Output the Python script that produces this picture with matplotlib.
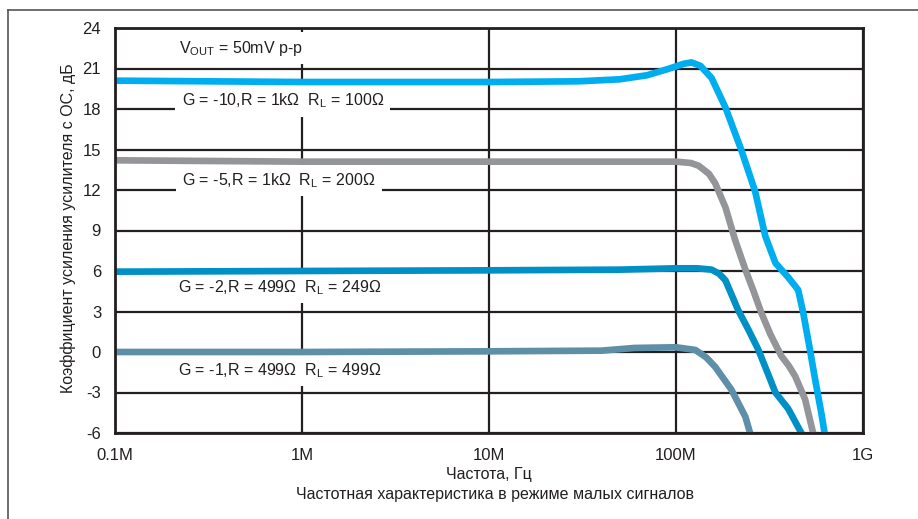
import numpy as np
import matplotlib
matplotlib.use("Agg")
import matplotlib.pyplot as plt
from matplotlib.lines import Line2D

plt.rcParams['font.family'] = ['Liberation Sans', 'DejaVu Sans']
plt.rcParams['mathtext.fontset'] = 'custom'
plt.rcParams['mathtext.rm'] = 'Liberation Sans'
plt.rcParams['axes.unicode_minus'] = False

# frequency in MHz, gain in dB
f_g10 = [0.1, 1, 10, 30, 50, 70, 90, 110, 121, 135, 155, 184, 223, 265, 300,
         340, 400, 450, 479, 520, 554, 600, 640]
g_g10 = [20.1, 20.0, 20.0, 20.05, 20.2, 20.5, 20.95, 21.35, 21.45, 21.2, 20.3,
         18.1, 15.0, 11.9, 8.6, 6.6, 5.5, 4.6, 2.9, 0.2, -2.0, -4.6, -7]

f_g5 = [0.1, 1, 10, 50, 100, 120, 132, 150, 162, 184, 207, 235, 260, 286, 320,
        366, 400, 434, 490, 541, 580]
g_g5 = [14.2, 14.1, 14.1, 14.1, 14.1, 14.0, 13.8, 13.2, 12.5, 10.7, 8.3, 6.1,
        4.5, 2.9, 1.3, -0.3, -1.0, -1.8, -3.5, -6, -7.5]

f_g2 = [0.1, 1, 10, 50, 100, 130, 155, 170, 184, 215, 245, 275, 310, 340, 398,
        468, 520]
g_g2 = [5.95, 6.0, 6.05, 6.1, 6.2, 6.2, 6.1, 5.8, 5.3, 3.1, 1.6, 0.2, -1.6,
        -3.0, -4.2, -6, -7.2]

f_g1 = [0.1, 1, 10, 40, 60, 100, 127, 145, 162, 198, 235, 249, 260]
g_g1 = [0.0, 0.0, 0.05, 0.1, 0.3, 0.35, 0.15, -0.4, -1.1, -2.8, -4.8, -6, -7]

xticks = [0.1, 1, 10, 100, 1000]
xlabels = ['0.1M', '1M', '10M', '100M', '1G']
yticks = list(range(-6, 25, 3))

fig = plt.figure(figsize=(9.18, 5.19), dpi=100)
ax = fig.add_axes([115 / 918, 1 - 433 / 519, 748 / 918, 405 / 519])

dark = '#231f20'
ax.set_xscale('log')
ax.set_xlim(0.1, 1000)
ax.set_ylim(-6, 24)
ax.set_xticks(xticks)
ax.set_xticklabels(xlabels)
ax.set_yticks(yticks)
ax.minorticks_off()
ax.tick_params(length=0, labelsize=12, colors='#231f20', pad=10)
ax.tick_params(axis='x', pad=11)
ax.grid(True, color=dark, linewidth=1.6, zorder=1)
for s in ax.spines.values():
    s.set_linewidth(2.0)
    s.set_color(dark)
    s.set_zorder(5)

lw = 4.8
ax.plot(f_g10, g_g10, color='#00aeef', lw=lw, zorder=4, solid_capstyle='butt')
ax.plot(f_g5, g_g5, color='#939598', lw=lw, zorder=4, solid_capstyle='butt')
ax.plot(f_g2, g_g2, color='#0090c6', lw=lw, zorder=4, solid_capstyle='butt')
ax.plot(f_g1, g_g1, color='#5d8fa9', lw=lw, zorder=4, solid_capstyle='butt')

box = dict(facecolor='white', edgecolor='none', boxstyle='square,pad=0.4')
tk = dict(fontsize=11.5, color=dark, zorder=3, va='center', bbox=box)
ax.text(0.22, 22.5, r'V$_{\mathrm{OUT}}$ = 50mV p-p', ha='left', **tk)
ax.text(0.79, 18.6, r'G = -10,R = 1kΩ  R$_{\mathrm{L}}$ = 100Ω', ha='center', **tk)
ax.text(0.75, 12.7, r'G = -5,R = 1kΩ  R$_{\mathrm{L}}$ = 200Ω', ha='center', **tk)
ax.text(0.76, 4.8, r'G = -2,R = 499Ω  R$_{\mathrm{L}}$ = 249Ω', ha='center', **tk)
ax.text(0.76, -1.35, r'G = -1,R = 499Ω  R$_{\mathrm{L}}$ = 499Ω', ha='center', **tk)

fig.text(68 / 918, 1 - 228 / 519, 'Коэффициент усиления усилителя с ОС, дБ',
         rotation=90, ha='center', va='center', fontsize=11.5, color=dark)
fig.text(489 / 918, 1 - 475 / 519, 'Частота, Гц', ha='center', va='center',
         fontsize=11.5, color=dark)
fig.text(495 / 918, 1 - 495 / 519, 'Частотная характеристика в режиме малых сигналов',
         ha='center', va='center', fontsize=11.5, color=dark)

# outer frame (top and left edges)
fig.add_artist(Line2D([8 / 918, 1], [1 - 9.5 / 519, 1 - 9.5 / 519],
                      color='#555555', lw=1.2, transform=fig.transFigure))
fig.add_artist(Line2D([8 / 918, 8 / 918], [0, 1 - 9.5 / 519],
                      color='#555555', lw=1.2, transform=fig.transFigure))

fig.savefig('out.png', dpi=100)
